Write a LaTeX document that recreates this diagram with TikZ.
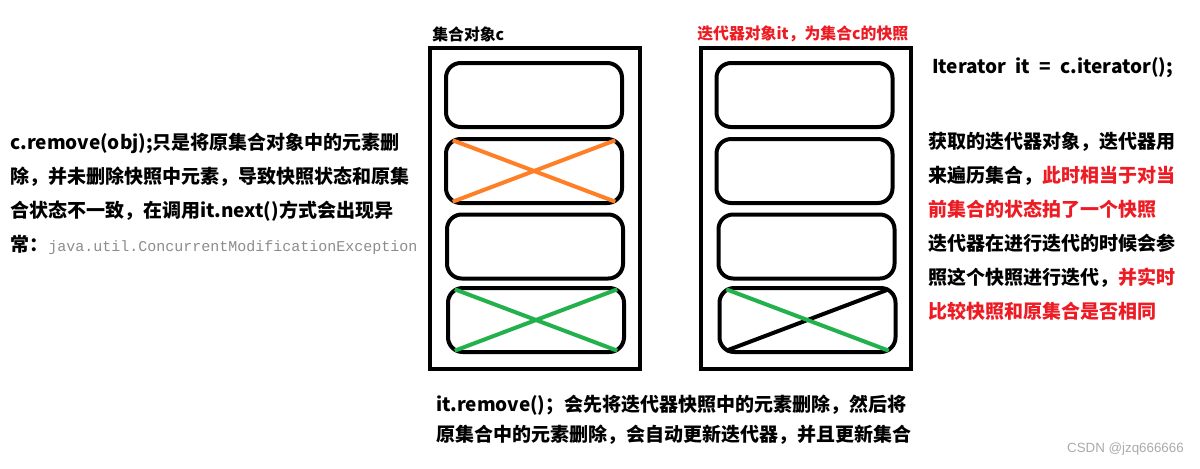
\documentclass[tikz,border=0pt]{standalone}
\usepackage{fontspec}
\setmainfont{Noto Sans CJK SC}
\newfontfamily\codefont{Liberation Mono}
\newfontfamily\markfont{Liberation Sans}
\usetikzlibrary{positioning}
\definecolor{hired}{RGB}{237,28,36}
\definecolor{xorange}{RGB}{255,127,39}
\definecolor{xgreen}{RGB}{34,177,76}
\definecolor{codegray}{RGB}{140,140,140}
\definecolor{markgray}{RGB}{170,170,170}
\tikzset{
  outerbox/.style={draw, line width=3pt, minimum width=157pt, minimum height=240.75pt, inner sep=0pt},
  cell/.style={draw, line width=3pt, rounded corners=11pt, minimum width=132pt, minimum height=48pt, inner sep=0pt},
  cross/.style={line width=3pt, shorten <=7pt, shorten >=7pt},
  para/.style={align=left, inner sep=0pt, anchor=north west, font=\bfseries\fontsize{14.25pt}{25.5pt}\selectfont},
  boxtitle/.style={inner sep=0pt, anchor=north west, font=\bfseries\fontsize{11.9pt}{14pt}\selectfont},
}
\begin{document}
\begin{tikzpicture}[x=0.75pt, y=-0.75pt]
  \useasboundingbox (0,0) rectangle (1200,468);

  % collection c
  \node[outerbox] (coll) at (535,208.5) {};
  \node[boxtitle] (colltitle) at (432,27) {集合对象c};
  \node[cell] (c1) at (534,95) {};
  \node[cell] (c2) at (534,171) {};
  \node[cell] (c3) at (535,246.5) {};
  \node[cell] (c4) at (536,320) {};
  \draw[cross, xorange] (c2.north west) -- (c2.south east);
  \draw[cross, xorange] (c2.south west) -- (c2.north east);
  \draw[cross, xgreen] (c4.north west) -- (c4.south east);
  \draw[cross, xgreen] (c4.south west) -- (c4.north east);

  % iterator snapshot
  \node[outerbox] (snap) at (806,208.5) {};
  \node[boxtitle, text=hired] (snaptitle) at (697,26) {迭代器对象it，为集合c的快照};
  \node[cell] (s1) at (804.5,95) {};
  \node[cell] (s2) at (804.5,171) {};
  \node[cell] (s3) at (806.5,246.5) {};
  \node[cell] (s4) at (807.5,320) {};
  \draw[cross, black] (s4.south west) -- (s4.north east);
  \draw[cross, xgreen] (s4.north west) -- (s4.south east);

  % notes
  \node[para] (leftnote) at (10,133) {c.remove(obj);只是将原集合对象中的元素删\\
    除，并未删除快照中元素，导致快照状态和原集\\
    合状态不一致，在调用it.next()方式会出现异\\
    常：{\mdseries\codefont\fontsize{11.25pt}{14pt}\selectfont\color{codegray}java.util.ConcurrentModificationException}};

  \node[para] (itline) at (932,57) {Iterator\hspace{7pt}it\hspace{7pt}=\hspace{7pt}c.iterator();};

  \node[para] (rightnote) at (928,132) {获取的迭代器对象，迭代器用\\
    来遍历集合，{\color{hired}此时相当于对当}\\
    {\color{hired}前集合的状态拍了一个快照}\\
    迭代器在进行迭代的时候会参\\
    照这个快照进行迭代，{\color{hired}并实时}\\
    {\color{hired}比较快照和原集合是否相同}};

  \node[para, font=\bfseries\fontsize{14.25pt}{22.5pt}\selectfont] (bottomnote) at (436,395) {it.remove()；会先将迭代器快照中的元素删除，然后将\\
    原集合中的元素删除，会自动更新迭代器，并且更新集合};

  \node[inner sep=0pt, anchor=east, text=markgray, font=\markfont\fontsize{10pt}{12pt}\selectfont] (mark) at (1184,449) {CSDN @jzq666666};
\end{tikzpicture}
\end{document}
